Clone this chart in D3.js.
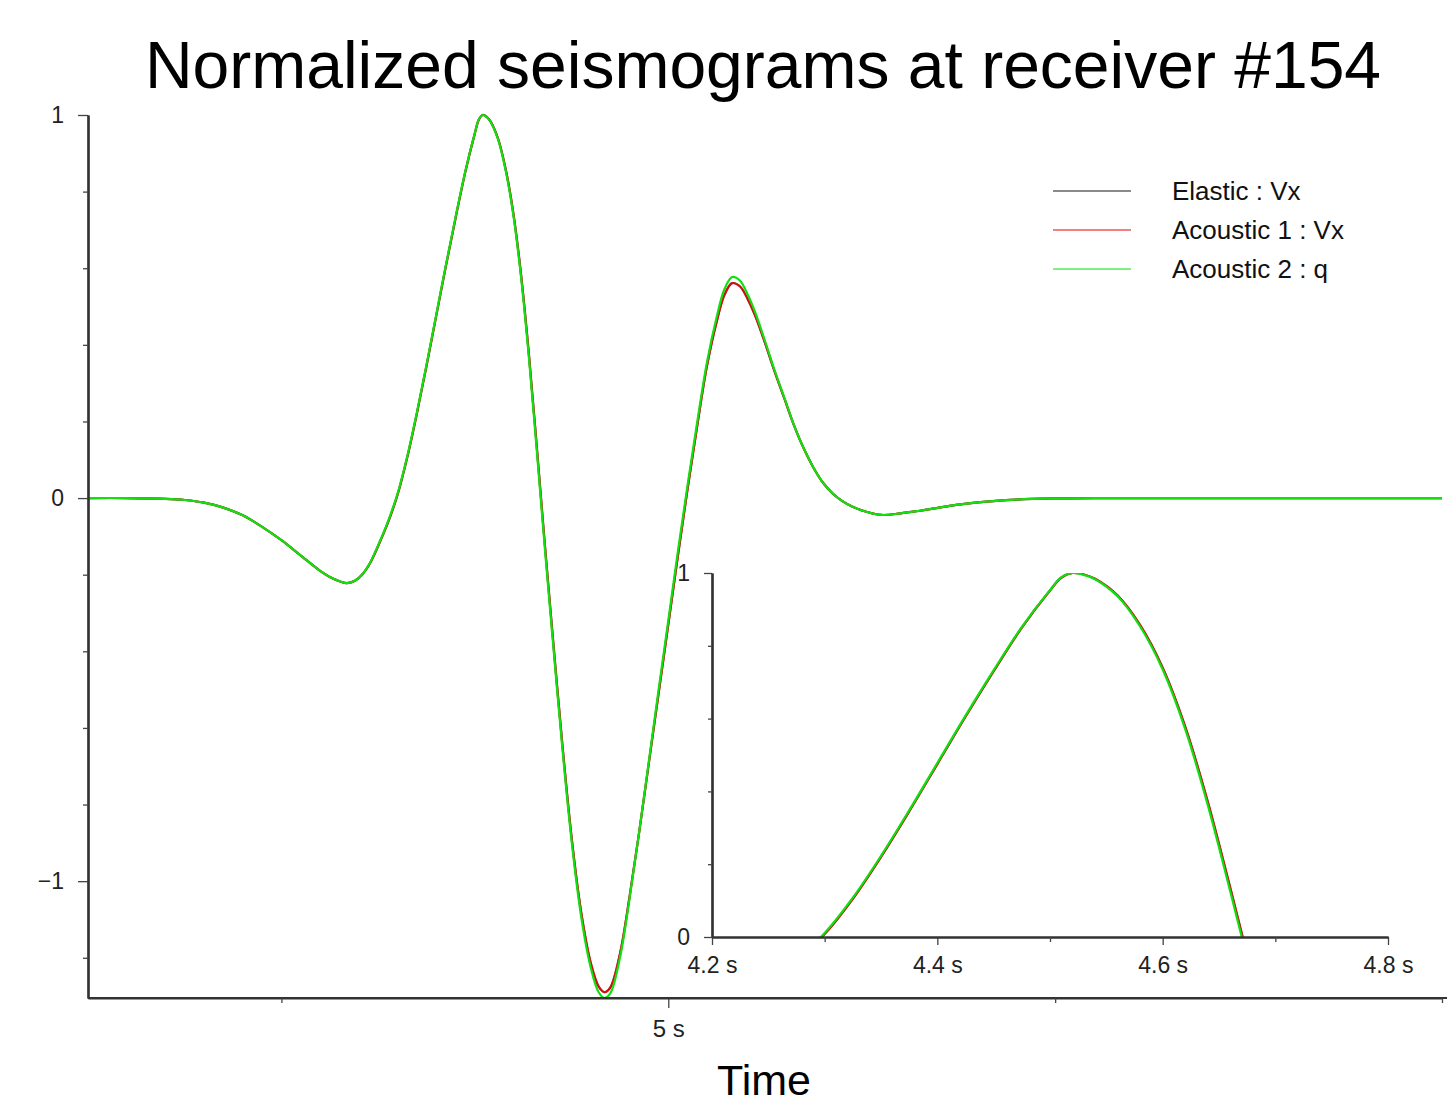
<!DOCTYPE html>
<html>
<head>
<meta charset="utf-8">
<script src="https://cdn.jsdelivr.net/npm/d3@7"></script>
<style>
  body { margin: 0; background: #fff; }
  svg { display: block; font-family: "Liberation Sans", Arial, sans-serif; }
</style>
</head>
<body>
<svg id="chart" width="1447" height="1107"></svg>
<script>
// sample times (s)
var timeS = [3.5, 3.6, 3.7, 3.75, 3.8, 3.85, 3.9, 3.95, 4.0, 4.05, 4.1, 4.125, 4.15, 4.17, 4.19, 4.21, 4.23, 4.25, 4.275,
  4.3, 4.325, 4.35, 4.375, 4.4, 4.425, 4.45, 4.475, 4.5, 4.51, 4.52, 4.53, 4.54, 4.56, 4.58, 4.6, 4.62, 4.64, 4.66, 4.68, 4.7,
  4.725, 4.75, 4.775, 4.8, 4.82, 4.835, 4.85, 4.875, 4.9, 4.925, 4.95, 4.975, 5.0, 5.025, 5.05, 5.075, 5.1, 5.125,
  5.145, 5.165, 5.185, 5.205, 5.225, 5.25, 5.275, 5.3, 5.325, 5.35, 5.375, 5.4, 5.425, 5.45, 5.475, 5.5, 5.55, 5.6,
  5.65, 5.7, 5.75, 5.8, 5.9, 6.0, 6.1, 6.5, 7.0];

var elasticVx = [0, 0, -0.002, -0.005, -0.012, -0.025, -0.045, -0.075, -0.11, -0.15, -0.19, -0.206, -0.217, -0.222, -0.216, -0.198, -0.168, -0.125, -0.065,
  0.008, 0.105, 0.22, 0.345, 0.475, 0.605, 0.73, 0.85, 0.952, 0.987, 1.0, 0.996, 0.984, 0.938, 0.857, 0.74, 0.578, 0.372, 0.135, -0.11, -0.345,
  -0.63, -0.885, -1.082, -1.215, -1.275, -1.29, -1.278, -1.19, -1.04, -0.87, -0.69, -0.51, -0.33, -0.15, 0.025, 0.19, 0.345, 0.46,
  0.53, 0.561, 0.553, 0.52, 0.475, 0.405, 0.33, 0.26, 0.19, 0.13, 0.08, 0.04, 0.012, -0.008, -0.022, -0.032, -0.044, -0.04,
  -0.033, -0.025, -0.017, -0.011, -0.004, -0.001, 0, 0, 0];

var acoustic1Vx = [0, 0, -0.002, -0.005, -0.012, -0.025, -0.045, -0.075, -0.11, -0.15, -0.19, -0.206, -0.217, -0.222, -0.216, -0.198, -0.168, -0.125, -0.065,
  0.008, 0.105, 0.22, 0.345, 0.475, 0.605, 0.73, 0.85, 0.952, 0.987, 1.0, 0.996, 0.984, 0.938, 0.857, 0.74, 0.578, 0.372, 0.135, -0.11, -0.345,
  -0.63, -0.885, -1.082, -1.215, -1.275, -1.29, -1.278, -1.19, -1.04, -0.87, -0.69, -0.51, -0.33, -0.15, 0.025, 0.19, 0.345, 0.46,
  0.53, 0.561, 0.553, 0.52, 0.475, 0.405, 0.33, 0.26, 0.19, 0.13, 0.08, 0.04, 0.012, -0.008, -0.022, -0.032, -0.044, -0.04,
  -0.033, -0.025, -0.017, -0.011, -0.004, -0.001, 0, 0, 0];

var acoustic2q = [0, 0, -0.002, -0.005, -0.012, -0.025, -0.045, -0.075, -0.11, -0.15, -0.19, -0.206, -0.217, -0.222, -0.216, -0.198, -0.167, -0.123, -0.062,
  0.011, 0.108, 0.223, 0.348, 0.478, 0.608, 0.733, 0.852, 0.953, 0.988, 1.0, 0.995, 0.983, 0.936, 0.853, 0.735, 0.571, 0.363, 0.125, -0.12, -0.355,
  -0.64, -0.895, -1.094, -1.228, -1.29, -1.305, -1.293, -1.2, -1.045, -0.87, -0.685, -0.5, -0.32, -0.138, 0.035, 0.2, 0.355, 0.472,
  0.545, 0.577, 0.568, 0.532, 0.484, 0.41, 0.333, 0.262, 0.19, 0.13, 0.08, 0.04, 0.012, -0.008, -0.022, -0.032, -0.044, -0.04,
  -0.033, -0.025, -0.017, -0.011, -0.004, -0.001, 0, 0, 0];

var seriesNames = ["Elastic : Vx", "Acoustic 1 : Vx", "Acoustic 2 : q"];
var seriesValues = [elasticVx, acoustic1Vx, acoustic2q];
var seriesColors = ["#808080", "#d01010", "#10e010"];
var legendColors = ["#8a8a8a", "#f28080", "#80f080"];

var mainXTicks = [5];
var mainXMinor = [4, 6, 7];
var mainYTicks = [-1, 0, 1];
var mainYMinor = [-1.2, -0.8, -0.6, -0.4, -0.2, 0.2, 0.4, 0.6, 0.8];
var insetXTicks = [4.2, 4.4, 4.6, 4.8];
var insetXMinor = [4.3, 4.5, 4.7];
var insetYTicks = [0, 1];
var insetYMinor = [0.2, 0.4, 0.6, 0.8];

var svg = d3.select("#chart");

// main plot scales
var x = d3.scaleLinear().domain([3.5, 7.0]).range([88, 1442]);
var y = d3.scaleLinear().domain([-1.305, 1]).range([998, 115]);

// inset scales
var xi = d3.scaleLinear().domain([4.2, 4.8]).range([712, 1388]);
var yi = d3.scaleLinear().domain([0, 1]).range([937, 573]);

var rows = seriesValues.map(function(vals) {
  return vals.map(function(v, i) { return { t: timeS[i], v: v }; });
});

var defs = svg.append("defs");
defs.append("clipPath").attr("id", "clipMain").append("rect")
  .attr("x", 88).attr("y", 110).attr("width", 1447 - 88).attr("height", 998 - 110);
defs.append("clipPath").attr("id", "clipInset").append("rect")
  .attr("x", 712).attr("y", 573).attr("width", 1388 - 712).attr("height", 937 - 573);

// title
svg.append("text").attr("x", 763).attr("y", 88).attr("text-anchor", "middle")
  .style("font-size", "66px").style("fill", "#000")
  .text("Normalized seismograms at receiver #154");

// curves
var lineMain = d3.line().curve(d3.curveCatmullRom.alpha(0.5))
  .x(function(d) { return x(d.t); }).y(function(d) { return y(d.v); });
var lineInset = d3.line().curve(d3.curveCatmullRom.alpha(0.5))
  .x(function(d) { return xi(d.t); }).y(function(d) { return yi(d.v); });

var gMain = svg.append("g").attr("clip-path", "url(#clipMain)");
rows.forEach(function(r, i) {
  gMain.append("path").datum(r)
    .attr("fill", "none").attr("stroke", seriesColors[i]).attr("stroke-width", 2.2)
    .attr("d", lineMain);
});

var gInset = svg.append("g").attr("clip-path", "url(#clipInset)");
rows.forEach(function(r, i) {
  gInset.append("path").datum(r)
    .attr("fill", "none").attr("stroke", seriesColors[i]).attr("stroke-width", 2.2)
    .attr("d", lineInset);
});

function styleAxis(g, fs) {
  g.select(".domain").attr("stroke", "#333").attr("stroke-width", 2.2);
  g.selectAll(".tick line").attr("stroke", "#444").attr("stroke-width", 1.3);
  g.selectAll(".tick text").style("font-size", fs).style("fill", "#222")
    .style("font-family", "'Liberation Sans', Arial, sans-serif");
}

var intFmt = function(d) { return d < 0 ? "\u2212" + Math.abs(d) : String(d); };

// main axes
var gy = svg.append("g").attr("transform", "translate(88,0)")
  .call(d3.axisLeft(y).tickValues(mainYTicks).tickSize(10).tickSizeOuter(0).tickPadding(14).tickFormat(intFmt));
styleAxis(gy, "23px");
var gym = svg.append("g").attr("transform", "translate(88,0)")
  .call(d3.axisLeft(y).tickValues(mainYMinor).tickSize(5).tickSizeOuter(0).tickFormat(""));
styleAxis(gym, "23px");

var gx = svg.append("g").attr("transform", "translate(0,998)")
  .call(d3.axisBottom(x).tickValues(mainXTicks).tickSize(10).tickSizeOuter(0).tickPadding(12)
    .tickFormat(function(d) { return d + " s"; }));
styleAxis(gx, "24px");
var gxm = svg.append("g").attr("transform", "translate(0,998)")
  .call(d3.axisBottom(x).tickValues(mainXMinor).tickSize(5).tickSizeOuter(0).tickFormat(""));
styleAxis(gxm, "24px");
gx.select(".domain").attr("d", "M88,0H1447");

svg.append("text").attr("x", 764).attr("y", 1095).attr("text-anchor", "middle")
  .style("font-size", "43px").style("fill", "#000").text("Time");

// inset axes
var giy = svg.append("g").attr("transform", "translate(712,0)")
  .call(d3.axisLeft(yi).tickValues(insetYTicks).tickSize(8).tickSizeOuter(0).tickPadding(14).tickFormat(intFmt));
styleAxis(giy, "23px");
var giym = svg.append("g").attr("transform", "translate(712,0)")
  .call(d3.axisLeft(yi).tickValues(insetYMinor).tickSize(4).tickSizeOuter(0).tickFormat(""));
styleAxis(giym, "23px");

var gix = svg.append("g").attr("transform", "translate(0,937)")
  .call(d3.axisBottom(xi).tickValues(insetXTicks).tickSize(8).tickSizeOuter(0).tickPadding(12)
    .tickFormat(function(d) { return d3.format(".1f")(d) + " s"; }));
styleAxis(gix, "23px");
var gixm = svg.append("g").attr("transform", "translate(0,937)")
  .call(d3.axisBottom(xi).tickValues(insetXMinor).tickSize(5).tickSizeOuter(0).tickFormat(""));
styleAxis(gixm, "23px");

// legend
var legend = svg.append("g");
seriesNames.forEach(function(name, i) {
  var ly = 191 + i * 39;
  legend.append("line").attr("x1", 1053).attr("x2", 1131).attr("y1", ly).attr("y2", ly)
    .attr("stroke", legendColors[i]).attr("stroke-width", 2);
  legend.append("text").attr("x", 1172).attr("y", ly).attr("dy", "0.35em")
    .style("font-size", "26px").style("fill", "#111").text(name);
});
</script>
</body>
</html>
